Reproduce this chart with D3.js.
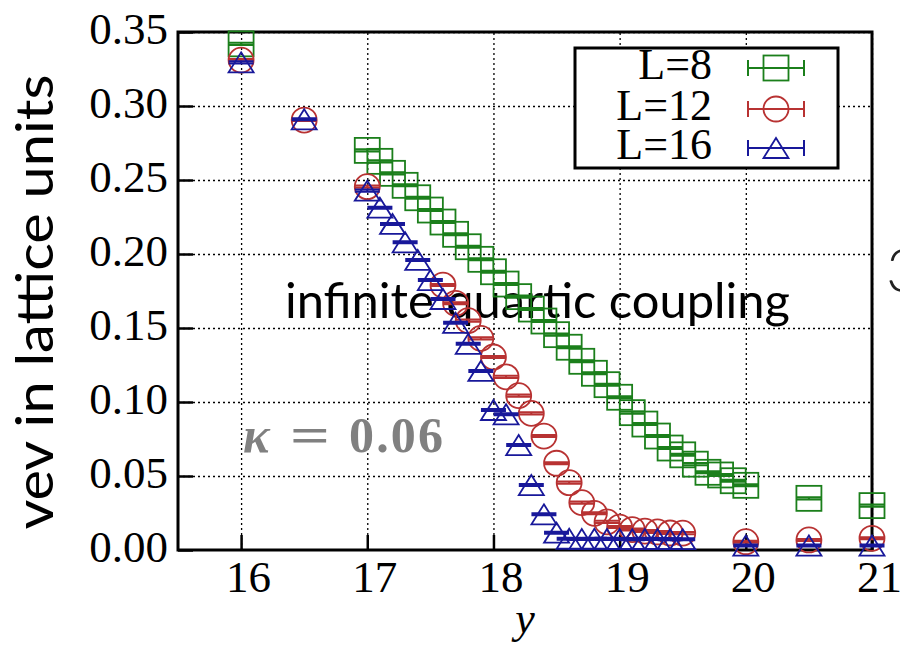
<!DOCTYPE html>
<html>
<head>
<meta charset="utf-8">
<script src="https://cdn.jsdelivr.net/npm/d3@7"></script>
<style>
  body { margin: 0; background: #fff; }
  svg { display: block; }
</style>
</head>
<body>
<svg id="chart" width="900" height="647"></svg>
<script>
// tick values
const xTicks = [16, 17, 18, 19, 20, 21];
const yTicks = [0, 0.05, 0.1, 0.15, 0.2, 0.25, 0.3, 0.35];
const yTickLabels = ["0.00", "0.05", "0.10", "0.15", "0.20", "0.25", "0.30", "0.35"];

// L=8
const xL8 = [16, 17.0, 17.1, 17.2, 17.3, 17.4, 17.5, 17.6, 17.7, 17.8, 17.9,
  18.0, 18.1, 18.2, 18.3, 18.4, 18.5, 18.6, 18.7, 18.8, 18.9,
  19.0, 19.1, 19.2, 19.3, 19.4, 19.5, 19.6, 19.7, 19.8, 19.9, 20.0, 20.5, 21];
const vevL8 = [0.342, 0.270, 0.2626, 0.2545, 0.2464, 0.2380, 0.2297, 0.2216, 0.2133, 0.2049, 0.1964,
  0.1880, 0.1797, 0.1712, 0.1628, 0.1547, 0.1455, 0.1370, 0.1275, 0.1194, 0.1117,
  0.1032, 0.0928, 0.0851, 0.0770, 0.0689, 0.0643, 0.0580, 0.0525, 0.0507, 0.0468, 0.0437, 0.0349, 0.0300];

// L=12
const xL12 = [16, 16.5, 17.0, 17.6, 17.7, 17.8, 17.9,
  18.0, 18.1, 18.2, 18.3, 18.4, 18.5, 18.6, 18.7, 18.8, 18.9,
  19.0, 19.1, 19.2, 19.3, 19.4, 19.5, 20, 20.5, 21];
const vevL12 = [0.331, 0.2905, 0.2455, 0.179, 0.1667, 0.155, 0.143,
  0.1304, 0.117, 0.1043, 0.0923, 0.077, 0.0586, 0.0455, 0.032, 0.0248, 0.019,
  0.0155, 0.0138, 0.0128, 0.0122, 0.0115, 0.0114, 0.0056, 0.0068, 0.0079];

// L=16
const xL16 = [16, 16.5, 17.0, 17.1, 17.2, 17.3, 17.4, 17.5, 17.6, 17.7, 17.8, 17.9,
  18.0, 18.1, 18.2, 18.3, 18.4, 18.5, 18.6, 18.7, 18.8, 18.9,
  19.0, 19.1, 19.2, 19.3, 19.4, 19.5, 20, 20.5, 21];
const vevL16 = [0.3295, 0.291, 0.2428, 0.2313, 0.2203, 0.2079, 0.196, 0.1824, 0.1696, 0.1535, 0.1393, 0.121,
  0.0946, 0.0917, 0.0709, 0.0439, 0.0241, 0.0117, 0.0076, 0.0074, 0.0076, 0.0075,
  0.0074, 0.0073, 0.0075, 0.0074, 0.0073, 0.0073, 0.003, 0.003, 0.003];

const errBar = 0.0007;

const series = [
  { label: "L=8", x: xL8, y: vevL8, color: "#1b7f1b", shape: "square" },
  { label: "L=12", x: xL12, y: vevL12, color: "#b83232", shape: "circle" },
  { label: "L=16", x: xL16, y: vevL16, color: "#18189a", shape: "triangle" }
];

const plotLeft = 178, plotRight = 872, plotTop = 32, plotBottom = 550;
const serif = "'Liberation Serif', 'DejaVu Serif', serif";
const sans = "Lato, 'Open Sans', sans-serif";

const svg = d3.select("#chart");

const x = d3.scaleLinear().domain([15.5, 21]).range([plotLeft, plotRight]);
const y = d3.scaleLinear().domain([0, 0.35]).range([plotBottom, plotTop]);

// dotted grid
svg.append("g")
  .attr("transform", `translate(0,${plotBottom})`)
  .call(d3.axisBottom(x).tickValues(xTicks).tickSize(-(plotBottom - plotTop)).tickFormat(""))
  .call(g => g.select(".domain").remove())
  .selectAll("line")
  .attr("stroke", "#000").attr("stroke-width", 1.3).attr("stroke-dasharray", "2,3");
svg.append("g")
  .attr("transform", `translate(${plotLeft},0)`)
  .call(d3.axisLeft(y).tickValues(yTicks.slice(1)).tickSize(-(plotRight - plotLeft)).tickFormat(""))
  .call(g => g.select(".domain").remove())
  .selectAll("line")
  .attr("stroke", "#000").attr("stroke-width", 1.3).attr("stroke-dasharray", "2,3");

// overlay labels
svg.append("text")
  .attr("x", 285).attr("y", 318)
  .attr("font-family", sans).attr("font-size", 48)
  .attr("textLength", 505).attr("lengthAdjust", "spacingAndGlyphs")
  .attr("fill", "#000")
  .text("infinite quartic coupling");

const kappa = svg.append("text")
  .attr("y", 452)
  .attr("font-family", serif).attr("font-size", 50).attr("font-weight", "bold")
  .attr("fill", "#808080");
kappa.append("tspan").attr("x", 243).attr("font-style", "italic").text("κ");
kappa.append("tspan").attr("x", 290).attr("textLength", 40).attr("lengthAdjust", "spacingAndGlyphs").text("=");
kappa.append("tspan").attr("x", 349).attr("textLength", 94).text("0.06");

// axes
const xAxis = d3.axisBottom(x).tickValues(xTicks).tickFormat(d3.format("d"))
  .tickSizeInner(-15).tickSizeOuter(0).tickPadding(10);
svg.append("g")
  .attr("transform", `translate(0,${plotBottom})`)
  .call(xAxis)
  .call(g => g.select(".domain").remove())
  .call(g => g.selectAll("line").attr("stroke", "#000").attr("stroke-width", 2.5))
  .call(g => g.selectAll("text")
    .attr("font-family", serif).attr("font-size", 45).attr("fill", "#000").attr("dx", 7));

const yAxis = d3.axisLeft(y).tickValues(yTicks).tickSizeInner(-15).tickSizeOuter(0).tickPadding(10)
  .tickFormat((d, i) => yTickLabels[i]);
svg.append("g")
  .attr("transform", `translate(${plotLeft},0)`)
  .call(yAxis)
  .call(g => g.select(".domain").remove())
  .call(g => g.selectAll("line").attr("stroke", "#000").attr("stroke-width", 2.5))
  .call(g => g.selectAll("text")
    .attr("font-family", serif).attr("font-size", 45).attr("fill", "#000").attr("dy", "0.25em"));

// frame
svg.append("rect")
  .attr("x", plotLeft).attr("y", plotTop)
  .attr("width", plotRight - plotLeft).attr("height", plotBottom - plotTop)
  .attr("fill", "none").attr("stroke", "#000").attr("stroke-width", 3);

// marker drawing
const mSize = 25;
function marker(g, shape, color) {
  if (shape === "square") {
    g.append("rect").attr("x", -mSize / 2).attr("y", -mSize / 2)
      .attr("width", mSize).attr("height", mSize);
  } else if (shape === "circle") {
    g.append("circle").attr("r", mSize / 2);
  } else {
    const h = 20;
    g.append("path").attr("d", `M0,${-h / 2}L${mSize / 2},${h / 2}L${-mSize / 2},${h / 2}Z`);
  }
  g.selectAll("rect,circle,path").attr("fill", "none").attr("stroke", color).attr("stroke-width", 1.8);
}

series.forEach(s => {
  const pts = s.x.map((xv, i) => ({ x: xv, y: s.y[i] }));
  const g = svg.append("g");
  const pt = g.selectAll("g.pt").data(pts).join("g")
    .attr("class", "pt")
    .attr("transform", d => `translate(${x(d.x)},${y(d.y)})`);
  pt.each(function () { marker(d3.select(this), s.shape, s.color); });
  // error bar caps
  pt.append("path")
    .attr("d", d => {
      const up = y(d.y + errBar) - y(d.y), dn = y(d.y - errBar) - y(d.y);
      return `M${-mSize / 2},${up}H${mSize / 2}M${-mSize / 2},${dn}H${mSize / 2}M0,${up}V${dn}`;
    })
    .attr("fill", "none").attr("stroke", s.color).attr("stroke-width", 2);
});

// legend
const legend = svg.append("g");
legend.append("rect")
  .attr("x", 575).attr("y", 48).attr("width", 263).attr("height", 120)
  .attr("fill", "#fff").attr("stroke", "#000").attr("stroke-width", 3);
const rowY = [68, 109, 148];
series.forEach((s, i) => {
  const row = legend.append("g").attr("transform", `translate(0,${rowY[i]})`);
  row.append("text")
    .attr("x", 712).attr("y", 11)
    .attr("text-anchor", "end")
    .attr("font-family", serif).attr("font-size", 44).attr("fill", "#000")
    .text(s.label);
  row.append("path")
    .attr("d", "M748,0H804M748,-8V8M804,-8V8")
    .attr("fill", "none").attr("stroke", s.color).attr("stroke-width", 2);
  const m = row.append("g").attr("transform", "translate(776,0)");
  marker(m, s.shape, s.color);
});

// axis titles
svg.append("text")
  .attr("transform", "translate(53,302) rotate(-90)")
  .attr("text-anchor", "middle")
  .attr("font-family", sans).attr("font-size", 52)
  .attr("textLength", 455).attr("lengthAdjust", "spacingAndGlyphs")
  .attr("fill", "#000")
  .text("vev in lattice units");

svg.append("text")
  .attr("x", 525).attr("y", 633)
  .attr("text-anchor", "middle")
  .attr("font-family", serif).attr("font-size", 44).attr("font-style", "italic")
  .attr("fill", "#000")
  .text("y");

// edge of the neighbouring panel
svg.append("text")
  .attr("x", 886).attr("y", 292)
  .attr("font-family", sans).attr("font-size", 62).attr("font-weight", 300)
  .attr("fill", "#222")
  .text("3");
</script>
</body>
</html>
